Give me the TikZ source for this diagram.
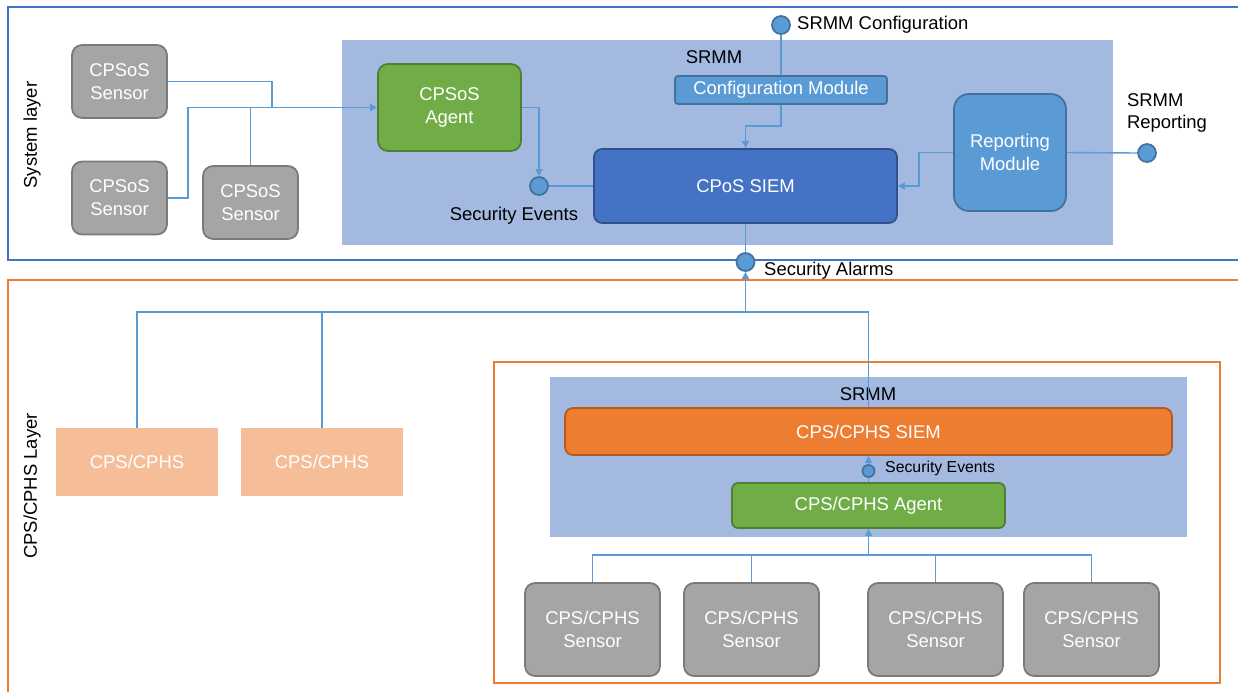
\documentclass[tikz,border=0pt]{standalone}
\usepackage{fontspec}
\setmainfont{Liberation Sans}
\usetikzlibrary{arrows.meta, positioning}
\definecolor{mFrameBlue}{HTML}{4472C4}
\definecolor{mFrameOrange}{HTML}{ED7D31}
\definecolor{mRegion}{RGB}{163,185,224}
\definecolor{mLink}{HTML}{5B9BD5}
\definecolor{mLinkDark}{HTML}{41719C}
\definecolor{mGreen}{HTML}{70AD47}
\definecolor{mGreenDark}{HTML}{507E32}
\definecolor{mSiem}{HTML}{4472C4}
\definecolor{mSiemDark}{HTML}{2F528F}
\definecolor{mSensor}{HTML}{A5A5A5}
\definecolor{mSensorDark}{HTML}{7A7A7A}
\definecolor{mPeach}{HTML}{F5BD98}
\definecolor{mOrangeDark}{HTML}{B55A1E}
\begin{document}
\begin{tikzpicture}[x=0.02cm, y=-0.02cm,
      every node/.style={font=\fontsize{10.5}{13}\selectfont},
      sensorbox/.style={draw=mSensorDark, line width=1pt, fill=mSensor, rounded corners=2mm, text=white, align=center, inner sep=1pt},
      agentbox/.style={draw=mGreenDark, line width=1pt, fill=mGreen, rounded corners=2mm, text=white, align=center, inner sep=1pt},
      modbox/.style={draw=mLinkDark, line width=1pt, fill=mLink, text=white, align=center, inner sep=1pt},
      siembox/.style={line width=1pt, rounded corners=1.6mm, text=white, inner sep=1pt},
      region/.style={fill=mRegion, inner sep=0pt},
      dot/.style={circle, draw=mLinkDark, line width=1pt, fill=mLink, minimum size=3.6mm, inner sep=0pt},
      link/.style={draw=mLink, line width=0.8pt},
      arr/.style={link, -{Triangle[length=4pt, width=4pt]}}]
    \useasboundingbox (0,0) rectangle (1238,691);
    \draw[mFrameBlue, line width=1.3pt] (8,7) rectangle (1250,260);
    \draw[mFrameOrange, line width=1.2pt] (8,280) rectangle (1250,705);
    \draw[mFrameOrange, line width=1.2pt] (494,362) rectangle (1220,683);
    \node[rotate=90] (syslbl) at (32,135) {System layer};
    \node[rotate=90] (cpslbl) at (32,486) {CPS/CPHS Layer};

    \node[region, minimum width=15.42cm, minimum height=4.1cm] (srmmA) at (727.5,142.5) {};
    \node (srmmAlbl) at (714,57) {SRMM};
    \node[sensorbox, minimum width=1.9cm, minimum height=1.46cm] (s1) at (119.5,81.5) {CPSoS\\Sensor};
    \node[sensorbox, minimum width=1.9cm, minimum height=1.46cm] (s2) at (119.5,198) {CPSoS\\Sensor};
    \node[sensorbox, minimum width=1.9cm, minimum height=1.46cm] (s3) at (250.5,202.5) {CPSoS\\Sensor};
    \node[agentbox, minimum width=2.86cm, minimum height=1.74cm] (agent) at (449.5,107.5) {CPSoS\\Agent};
    \node[modbox, rounded corners=0.6mm, minimum width=4.24cm, minimum height=0.56cm] (cfg) at (781,90) {Configuration Module};
    \node[siembox, draw=mSiemDark, fill=mSiem, minimum width=6.06cm, minimum height=1.48cm] (siem) at (745.5,186) {CPoS SIEM};
    \node[modbox, rounded corners=3mm, minimum width=2.24cm, minimum height=2.34cm] (rep) at (1010,152.5) {Reporting\\Module};
    \node[dot] (cfgdot) at (781,25) {};
    \node[anchor=west] (cfglbl) at (791,25) {SRMM Configuration};
    \node[dot] (repdot) at (1147,153) {};
    \node[align=left] (replbl) at (1167,113) {SRMM\\Reporting};
    \node[dot] (sev) at (539,186) {};
    \node (sevlbl) at (514,216) {Security Events};
    \node[dot] (alarm) at (745.5,262) {};
    \node[anchor=west] (alarmlbl) at (758,271) {Security Alarms};

    \node[fill=mPeach, text=white, minimum width=3.24cm, minimum height=1.36cm] (cps1) at (137,462) {CPS/CPHS};
    \node[fill=mPeach, text=white, minimum width=3.24cm, minimum height=1.36cm] (cps2) at (322,462) {CPS/CPHS};
    \node[region, minimum width=12.74cm, minimum height=3.2cm] (srmmB) at (868.5,457) {};
    \node (srmmBlbl) at (868,394) {SRMM};
    \node[siembox, draw=mOrangeDark, fill=mFrameOrange, minimum width=12.14cm, minimum height=0.94cm] (siem2) at (868.5,431.5) {CPS/CPHS SIEM};
    \node[dot, minimum size=2.4mm] (sev2) at (868.5,471) {};
    \node[anchor=west, font=\fontsize{9}{11}\selectfont] (sev2lbl) at (879,468) {Security Events};
    \node[agentbox, rounded corners=1.2mm, minimum width=5.46cm, minimum height=0.9cm] (agent2) at (868.5,505.5) {CPS/CPHS Agent};
    \node[sensorbox, minimum width=2.7cm, minimum height=1.86cm] (ss1) at (592.5,629.5) {CPS/CPHS\\Sensor};
    \node[sensorbox, minimum width=2.7cm, minimum height=1.86cm] (ss2) at (751.5,629.5) {CPS/CPHS\\Sensor};
    \node[sensorbox, minimum width=2.7cm, minimum height=1.86cm] (ss3) at (935.5,629.5) {CPS/CPHS\\Sensor};
    \node[sensorbox, minimum width=2.7cm, minimum height=1.86cm] (ss4) at (1091.5,629.5) {CPS/CPHS\\Sensor};

    \coordinate (jA) at (272,107.5);
    \coordinate (busA) at (745.5,312);
    \coordinate (busB) at (868.5,555);
    \draw[link] (s1.east) -| (jA);
    \draw[arr] (s2.east) -- ++(20,0) |- (agent.west);
    \draw[link] (s3.north) -- (s3.north |- agent.west);
    \draw[arr] (agent.east) -| (sev.north);
    \draw[link] (sev.east) -- (siem.west);
    \draw[link] (cfgdot.south) -- (cfg.north);
    \draw[arr] (cfg.south) -- ++(0,21) -| (siem.north);
    \draw[arr] (rep.west) -- ++(-34,0) |- (siem.east);
    \draw[link] (rep.east) -- (repdot.west);
    \draw[link] (siem.south) -- (alarm.north);
    \draw[arr] (busA) -- (alarm.south);
    \draw[link] (cps1.north) |- (busA) -| (siem2.north);
    \draw[link] (cps2.north) -- (cps2.north |- busA);
    \draw[arr] (sev2.north) -- (siem2.south);
    \draw[link] (agent2.north) -- (sev2.south);
    \draw[arr] (busB) -- (agent2.south);
    \draw[link] (ss1.north) |- (busB) -| (ss4.north);
    \draw[link] (ss2.north) -- (ss2.north |- busB);
    \draw[link] (ss3.north) -- (ss3.north |- busB);
  \end{tikzpicture}
\end{document}
